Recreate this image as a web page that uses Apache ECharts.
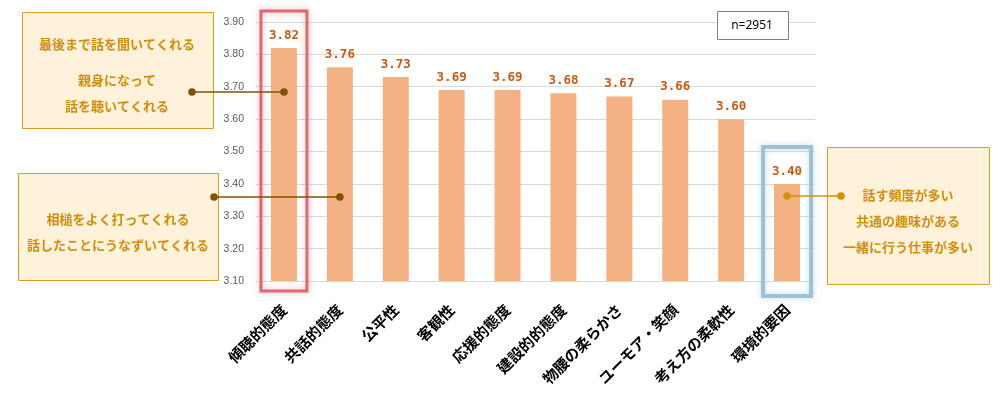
<!DOCTYPE html>
<html><head><meta charset="utf-8">
<script src="https://cdn.jsdelivr.net/npm/echarts@6/dist/echarts.min.js"></script>
<style>html,body{margin:0;padding:0;background:#fff}#c{width:1008px;height:400px}</style>
</head><body><div id="c"></div>
<script>
const categories = ['傾聴的態度','共話的態度','公平性','客観性','応援的態度','建設的的態度','物腰の柔らかさ','ユーモア・笑顔','考え方の柔軟性','環境的要因'];
const values = [3.82, 3.76, 3.73, 3.69, 3.69, 3.68, 3.67, 3.66, 3.60, 3.40];
const yTicks = {min: 3.1, max: 3.9, interval: 0.1};
const sampleNote = 'n=2951';
const noteBox1 = ['最後まで話を聞いてくれる', '', '親身になって', '話を聴いてくれる'];
const noteBox2 = ['相槌をよく打ってくれる', '話したことにうなずいてくれる'];
const noteBox3 = ['話す頻度が多い', '共通の趣味がある', '一緒に行う仕事が多い'];

const JP = '"Noto Sans CJK JP", "Noto Sans", sans-serif';
const chart = echarts.init(document.getElementById('c'), null, {renderer: 'canvas'});
chart.setOption({
  animation: false,
  backgroundColor: '#fff',
  grid: {left: 256, right: 193, top: 22, bottom: 119, containLabel: false},
  xAxis: {
    type: 'category', data: categories,
    axisLine: {show: false}, axisTick: {show: false},
    axisLabel: {rotate: 45, interval: 0, fontFamily: JP, fontWeight: 'bold', fontSize: 15, color: '#000', margin: 26}
  },
  yAxis: {
    type: 'value', min: yTicks.min, max: yTicks.max, interval: yTicks.interval,
    axisLine: {show: false}, axisTick: {show: false},
    axisLabel: {formatter: v => v.toFixed(2), fontFamily: '"Liberation Sans", sans-serif', fontSize: 10.5, color: '#595959', margin: 12},
    splitLine: {lineStyle: {color: '#d9d9d9', width: 1}}
  },
  series: [{
    type: 'bar', data: values, barWidth: 26,
    itemStyle: {color: '#f4b183'},
    label: {show: true, position: 'top', distance: 6, formatter: p => p.value.toFixed(2),
      fontFamily: '"DejaVu Sans Mono", monospace', fontWeight: 'bold', fontSize: 12.5, color: '#c55a11'}
  }]
});

function px(i, v){ return chart.convertToPixel({xAxisIndex:0, yAxisIndex:0}, [i, v]); }
const c0 = px(0, 3.5)[0], c1 = px(1, 3.5)[0], c9 = px(9, 3.5)[0];
const boxFill = '#fff2db', boxStroke = '#d99b26', txtColor = '#d08e0f', dark = '#7f5400', gold = '#d4900a';

function textLines(lines, cx, ys){
  return lines.map((t, k) => t ? ({type:'text', z: 100, style:{text: t, x: cx, y: ys[k], textAlign:'center', textVerticalAlign:'middle',
    font: 'bold 13px ' + JP, fill: txtColor}}) : null).filter(Boolean);
}

const g = [];
// highlight boxes
g.push({type:'rect', z: 100, shape:{x: c0-23, y: 11, width: 46, height: 280}, style:{fill:'none', stroke:'#e06670', lineWidth:3, shadowBlur:6, shadowColor:'rgba(224,102,112,0.5)'}});
g.push({type:'rect', z: 100, shape:{x: c9-24, y: 147, width: 48, height: 149}, style:{fill:'none', stroke:'#9cc3d4', lineWidth:4, shadowBlur:6, shadowColor:'rgba(156,195,212,0.6)'}});
// n box
g.push({type:'rect', z: 100, shape:{x:717.5, y:11.5, width:71, height:28}, style:{fill:'#fff', stroke:'#7f7f7f', lineWidth:1}});
g.push({type:'text', z: 101, style:{text: sampleNote, x:752, y:26, textAlign:'center', textVerticalAlign:'middle', font:'12px "Noto Sans", sans-serif', fill:'#000'}});
// box1
g.push({type:'rect', z: 100, shape:{x:22.5, y:12.5, width:191, height:116}, style:{fill:boxFill, stroke:boxStroke, lineWidth:1}});
g.push(...textLines(noteBox1, 117, [44, 62, 80, 106]));
// box2
g.push({type:'rect', z: 100, shape:{x:18.5, y:173.5, width:200, height:107}, style:{fill:boxFill, stroke:boxStroke, lineWidth:1}});
g.push(...textLines(noteBox2, 118, [219, 245]));
// box3
g.push({type:'rect', z: 100, shape:{x:827.5, y:147.5, width:162, height:137}, style:{fill:boxFill, stroke:boxStroke, lineWidth:1}});
g.push(...textLines(noteBox3, 908, [195, 221, 247]));
// connectors
g.push({type:'line', z: 102, shape:{x1:192, y1:92, x2:c0, y2:92}, style:{stroke:dark, lineWidth:1.3}});
g.push({type:'circle', z: 103, shape:{cx:192, cy:92, r:3.8}, style:{fill:dark}});
g.push({type:'circle', z: 103, shape:{cx:c0, cy:92, r:3.8}, style:{fill:dark}});
g.push({type:'line', z: 102, shape:{x1:214, y1:197, x2:c1, y2:197}, style:{stroke:dark, lineWidth:1.3}});
g.push({type:'circle', z: 103, shape:{cx:214, cy:197, r:3.8}, style:{fill:dark}});
g.push({type:'circle', z: 103, shape:{cx:c1, cy:197, r:3.8}, style:{fill:dark}});
g.push({type:'line', z: 102, shape:{x1:841, y1:196, x2:c9, y2:196}, style:{stroke:gold, lineWidth:1.3}});
g.push({type:'circle', z: 103, shape:{cx:841, cy:196, r:3.8}, style:{fill:gold}});
g.push({type:'circle', z: 103, shape:{cx:c9, cy:196, r:3.8}, style:{fill:gold}});

chart.setOption({graphic: {elements: g}});
</script>
</body></html>
